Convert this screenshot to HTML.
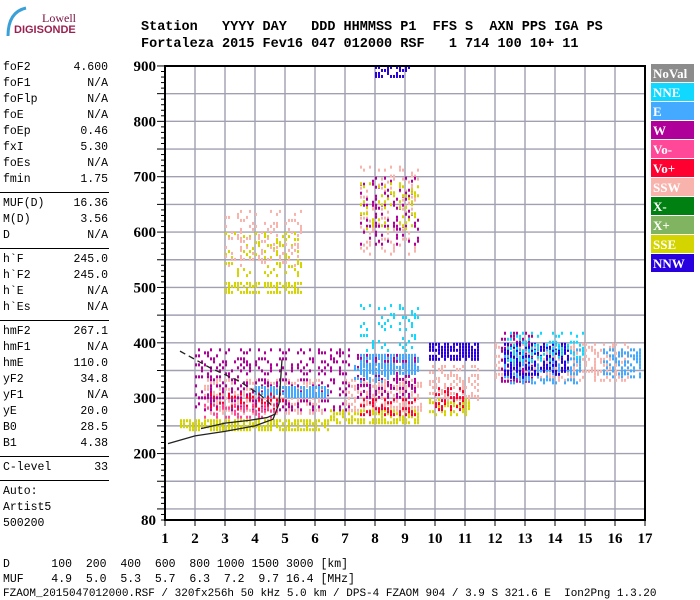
<!DOCTYPE html>
<html><head><meta charset="utf-8"><style>
body{margin:0;background:#fff;width:700px;height:600px;overflow:hidden;position:relative;font-family:"Liberation Mono",monospace}
.t{position:absolute;white-space:pre;font-size:11.5px;color:#000}
.h{position:absolute;white-space:pre;font-size:13.5px;font-weight:bold;font-family:"Liberation Mono",monospace}
svg{position:absolute;left:0;top:0}
</style></head><body>
<div style="position:absolute;left:4px;top:6px;width:76px;height:32px">
<svg width="76" height="32" style="position:absolute"><path d="M22 2 Q4 6 4 30" stroke="#3aa0d8" stroke-width="3" fill="none"/></svg>
<div style="position:absolute;left:38px;top:5px;font:12px 'Liberation Serif',serif;color:#7a1040">Lowell</div>
<div style="position:absolute;left:10px;top:18px;font:bold 11px 'Liberation Sans',sans-serif;color:#9a2050">DIGISONDE</div></div>
<div class="h" style="left:141px;top:20px">Station   YYYY DAY   DDD HHMMSS P1  FFS S  AXN PPS IGA PS</div>
<div class="h" style="left:141px;top:37px">Fortaleza 2015 Fev16 047 012000 RSF   1 714 100 10+ 11</div>
<div id="left"></div>
<svg id="chart" width="700" height="600"></svg>
<div class="t" style="left:3px;top:558px">D      100  200  400  600  800 1000 1500 3000 [km]</div>
<div class="t" style="left:3px;top:573px">MUF    4.9  5.0  5.3  5.7  6.3  7.2  9.7 16.4 [MHz]</div>
<div class="t" style="left:3px;top:588px;font-size:11px">FZAOM_2015047012000.RSF / 320fx256h 50 kHz 5.0 km / DPS-4 FZAOM 904 / 3.9 S 321.6 E  Ion2Png 1.3.20</div>
<script>
const paramNames=["foF2","foF1","foFlp","foE","foEp","fxI","foEs","fmin","|","MUF(D)","M(D)","D","|","h`F","h`F2","h`E","h`Es","|","hmF2","hmF1","hmE","yF2","yF1","yE","B0","B1","|","C-level","|","Auto:","Artist5","500200"];
const paramValues=["4.600","N/A","N/A","N/A","0.46","5.30","N/A","1.75","","16.36","3.56","N/A","","245.0","245.0","N/A","N/A","","267.1","N/A","110.0","34.8","N/A","20.0","28.5","4.38","","33","","","",""];
const legendNames=["NoVal","NNE","E","W","Vo-","Vo+","SSW","X-","X+","SSE","NNW"];
const legendColors=["#8c8c8c","#10d8ff","#44aaff","#b0009a","#ff4898","#ff0030","#f8b4ac","#008010","#80b460","#d4d400","#2800e0"];
const xTicks=[1,2,3,4,5,6,7,8,9,10,11,12,13,14,15,16,17];
const yTicks=[80,200,300,400,500,600,700,800,900];
// echo regions: [fStart,fEnd,hStart,hEnd,colorIndex]
const regions=[
[1.5,6.5,245,262,9],[6.5,9.5,258,280,9],[9.8,11.2,270,300,9],
[2.3,6.3,270,335,6],[7,9.6,280,335,6],[9.8,11.5,300,360,6],[12,16.5,330,400,6],
[2,7.2,280,390,3],[7.4,9.4,300,380,3],[12.2,13.3,330,420,3],
[4,6.5,305,322,2],[7.5,9.5,345,380,2],[7.3,8.5,330,360,2],[12.3,15,330,390,2],[15.6,16.9,340,390,2],
[7.5,9.5,272,300,5],[2.5,5,280,310,5],[10,11,280,320,5],
[9.8,11.5,370,400,10],[12.3,13,340,400,10],[13,14.5,345,400,10],[8,9.3,880,900,10],
[7.5,9.5,380,470,1],[12.4,15,370,420,1],
[7.5,9.5,560,720,6],[7.5,9.5,580,700,3],[7.5,9.5,600,690,9],
[3,5.6,490,510,9],[3,5.6,520,600,9],[3,5.6,540,640,6],
[2.3,4.8,265,290,4]];
// fill fraction of each region (same order)
const densities=[0.8,0.7,0.5,0.5,0.5,0.4,0.4,0.3,0.4,0.4,0.8,0.8,0.5,0.5,0.5,0.4,0.3,0.4,0.8,0.6,0.5,0.6,0.2,0.3,0.2,0.2,0.2,0.7,0.2,0.2,0.3];
const lines=[
{pts:[[1.1,218],[2,232],[3,240],[4,250],[4.6,262],[4.8,290],[4.9,370]],dash:""},
{pts:[[2.2,245],[3,255],[3.8,260],[4.4,265],[4.7,272]],dash:""},
{pts:[[1.5,385],[2.5,355],[3.5,330],[4.2,305],[4.6,285]],dash:"6,4"}];
const NS="http://www.w3.org/2000/svg";
const svg=document.getElementById('chart');
const X0=165,Y0=520;
function xs(f){return X0+(f-1)*30;}
function ys(h){return Y0-(h-80)*0.5537;}
function el(t,a){const e=document.createElementNS(NS,t);for(const k in a)e.setAttribute(k,a[k]);svg.appendChild(e);return e;}
for(let f=2;f<17;f++){const g=el('line',{x1:xs(f),x2:xs(f),y1:ys(900),y2:Y0,stroke:'#a0a0b0','stroke-width':1.4});
}
for(let h=100;h<900;h+=50){const g=el('line',{x1:X0,x2:xs(17),y1:ys(h),y2:ys(h),stroke:'#a0a0b0','stroke-width':1.4});
}
regions.forEach((r,ri)=>{const g=el('g',{});
const x1=xs(r[0]),x2=xs(r[1]),y1=ys(r[3]),y2=ys(r[2]);const d=densities[ri]||0.5;
for(let x=x1,i=0;x<x2;x+=3,i++){for(let y=y1,j=0;y<y2;y+=3,j++){if(((i*7+j*3+ri*5+(i*j)%7)%10)>=d*10)continue;
const c=document.createElementNS(NS,'rect');c.setAttribute('x',x);c.setAttribute('y',y);c.setAttribute('width',2);c.setAttribute('height',3);c.setAttribute('fill',legendColors[r[4]]);g.appendChild(c);}}});
lines.forEach(l=>{const p=el('polyline',{points:l.pts.map(q=>xs(q[0])+','+ys(q[1])).join(' '),fill:'none',stroke:'#222','stroke-width':1.3,'stroke-dasharray':l.dash});
});
const ax=el('path',{d:`M${X0} ${ys(900)}H${xs(17)}V${Y0}H${X0}Z`,fill:'none',stroke:'#000','stroke-width':2});

for(let h=80;h<=900;h+=10){const big=h%50==0;el('line',{x1:X0-(big?8:4),x2:X0,y1:ys(h),y2:ys(h),stroke:'#000'});}
yTicks.forEach(v=>{const t=el('text',{x:X0-9,y:ys(v)+5,'text-anchor':'end','font-family':'Liberation Serif,serif','font-weight':'bold','font-size':15});t.textContent=v;
});
xTicks.forEach(v=>{el('line',{x1:xs(v),x2:xs(v),y1:Y0,y2:Y0+6,stroke:'#000'});
const t=el('text',{x:xs(v),y:543,'text-anchor':'middle','font-family':'Liberation Serif,serif','font-weight':'bold','font-size':15});t.textContent=v;
});
legendNames.forEach((n,i)=>{const y=64+i*19;
const r=el('rect',{x:651,y:y,width:43,height:18,fill:legendColors[i]});

const t=el('text',{x:653,y:y+14,fill:'#fff','font-family':'Liberation Serif,serif','font-weight':'bold','font-size':13});t.textContent=n;
});
const left=document.getElementById('left');let y=61;
paramNames.forEach((n,i)=>{if(n=='|'){const d=document.createElement('div');d.style.cssText=`position:absolute;left:0;top:${y+3}px;width:109px;border-top:1px solid #000`;
left.appendChild(d);y+=8;return;}
const a=document.createElement('div');a.className='t';a.style.left='3px';a.style.top=y+'px';a.textContent=n;
left.appendChild(a);
if(paramValues[i]){const b=document.createElement('div');b.className='t';b.style.right=(700-108)+'px';b.style.top=y+'px';b.textContent=paramValues[i];
left.appendChild(b);}
y+=16;});
</script>
</body></html>
